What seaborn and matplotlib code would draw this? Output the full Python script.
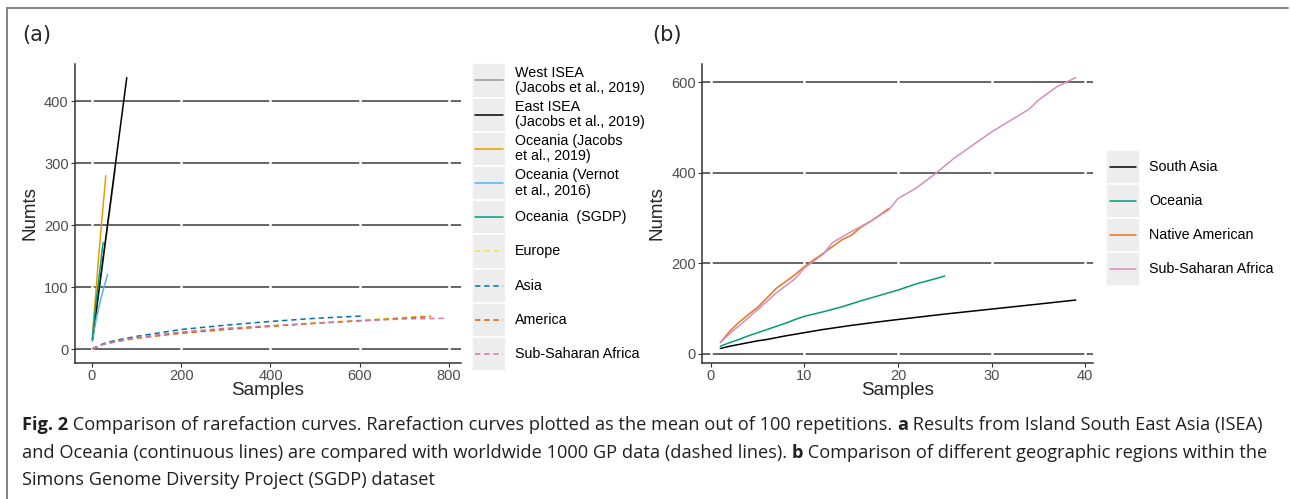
import numpy as np
import pandas as pd
import matplotlib
matplotlib.use("Agg")
import matplotlib.pyplot as plt
import seaborn as sns
from matplotlib.lines import Line2D
from matplotlib.patches import Rectangle

# ---- panel (a): ISEA / Oceania (solid) vs 1000 GP (dashed) ----
west_isea_x = [1, 52]
west_isea_y = [13, 290]
east_isea_x = [1, 40, 78]
east_isea_y = [15, 229, 438]
oce_jacobs_x = [1, 15, 31]
oce_jacobs_y = [22, 150, 280]
oce_vernot_x = [1, 10, 20, 35]
oce_vernot_y = [15, 50, 82, 121]
europe_x = [1, 25, 50, 100, 200, 300, 400, 500, 600, 760]
europe_y = [1, 8, 12, 18, 27, 33, 38, 43, 47, 54]
asia_x = [1, 25, 50, 100, 200, 300, 400, 500, 610]
asia_y = [1, 9, 14, 21, 32, 39, 45, 50, 54]
america_x = [1, 25, 50, 100, 200, 300, 400, 500, 600, 760]
america_y = [1, 8, 12, 18, 26, 32, 37, 42, 46, 53]
ssa_1kg_x = [1, 25, 50, 100, 200, 300, 400, 500, 600, 700, 790]
ssa_1kg_y = [1, 8, 12, 19, 28, 34, 38, 42, 46, 49, 50]

# ---- panel (b): SGDP regions ----
south_asia_x = [1, 2, 3, 4, 5, 6, 8, 10, 12, 15, 18, 20, 25, 30, 35, 39]
south_asia_y = [12, 17, 21, 25, 29, 32, 40, 47, 54, 63, 71, 76, 88, 99, 110, 119]
oceania_x = [1, 2, 3, 4, 5, 6, 7, 8, 9, 10, 12, 14, 16, 18, 20, 22, 24, 25]
oceania_y = [17, 25, 32, 40, 47, 54, 61, 68, 76, 83, 93, 104, 117, 129, 141, 155, 166, 172]
native_am_x = [1, 2, 3, 4, 5, 6, 7, 8, 9, 10, 11, 12, 13, 14, 15, 16, 17, 18, 19]
native_am_y = [25, 50, 70, 87, 103, 124, 145, 160, 175, 193, 208, 222, 237, 252, 262, 279, 292, 306, 321]
ssa_x = [1, 2, 3, 5, 7, 9, 10, 12, 13, 15, 17, 19, 20, 22, 24, 26, 28, 30, 32, 34, 35, 37, 39]
ssa_y = [25, 45, 62, 98, 135, 166, 190, 220, 246, 270, 292, 318, 343, 367, 398, 432, 461, 490, 515, 540, 560, 590, 610]

groups_a = ["West ISEA\n(Jacobs et al., 2019)", "East ISEA\n(Jacobs et al., 2019)",
            "Oceania (Jacobs\net al., 2019)", "Oceania (Vernot\net al., 2016)",
            "Oceania  (SGDP)", "Europe", "Asia", "America", "Sub-Saharan Africa"]
colors_a = ["#999999", "#000000", "#E69F00", "#56B4E9", "#009E73",
            "#F0E442", "#0072B2", "#D55E00", "#CC79A7"]
dashed_a = [False] * 5 + [True] * 4
series_a = [(west_isea_x, west_isea_y), (east_isea_x, east_isea_y),
            (oce_jacobs_x, oce_jacobs_y), (oce_vernot_x, oce_vernot_y),
            (oceania_x, oceania_y), (europe_x, europe_y), (asia_x, asia_y),
            (america_x, america_y), (ssa_1kg_x, ssa_1kg_y)]

groups_b = ["South Asia", "Oceania", "Native American", "Sub-Saharan Africa"]
colors_b = ["#000000", "#009E73", "#E8731E", "#D98DBE"]
series_b = [(south_asia_x, south_asia_y), (oceania_x, oceania_y),
            (native_am_x, native_am_y), (ssa_x, ssa_y)]

DASH = (3.5, 2.5)

def long_frame(groups, series):
    rows = []
    for g, (xs, ys) in zip(groups, series):
        for x, y in zip(xs, ys):
            rows.append({"group": g, "Samples": x, "Numts": y})
    return pd.DataFrame(rows)

df_a = long_frame(groups_a, series_a)
df_b = long_frame(groups_b, series_b)

sns.set_style("white")
plt.rcParams["font.family"] = ["Liberation Sans", "DejaVu Sans"]

W, H = 1290, 499
fig = plt.figure(figsize=(W / 100, H / 100), dpi=100)


def px(x, y):
    return x / W, 1 - y / H


def style_axes(ax, xticks, yticks, xlim, ylim):
    ax.set_xlim(xlim)
    ax.set_ylim(ylim)
    ax.set_xticks(xticks)
    ax.set_yticks(yticks)
    ax.set_axisbelow(True)
    ax.grid(axis="y", color="#3c3c3c", lw=1.1)
    ax.grid(axis="x", visible=False)
    for xt in xticks:
        ax.axvline(xt, color="white", lw=1.8, zorder=1)
    for s in ["top", "right"]:
        ax.spines[s].set_visible(False)
    for s in ["left", "bottom"]:
        ax.spines[s].set_color("#333333")
        ax.spines[s].set_linewidth(1.1)
    ax.tick_params(axis="both", labelcolor="#4D4D4D", labelsize=10.5, length=3,
                   width=0.8, color="#333333", pad=1.5, left=True, bottom=True)
    ax.set_xlabel("Samples", fontsize=13.5, labelpad=-1)
    ax.set_ylabel("Numts", fontsize=13.5, labelpad=4)


def draw_legend(x0, y0, row_h, key_w, labels, colors, dashed, text_x):
    for i, (lab, col, d) in enumerate(zip(labels, colors, dashed)):
        top = y0 + i * row_h
        fig.add_artist(Rectangle(px(x0, top + row_h), key_w / W, row_h / H,
                                 transform=fig.transFigure, facecolor="#EDEDED",
                                 edgecolor="white", lw=1.2))
        yc = top + row_h / 2
        ln = Line2D([(x0 + 3.5) / W, (x0 + key_w - 3.5) / W], [1 - yc / H] * 2,
                    transform=fig.transFigure, color=col, lw=1.1)
        if d:
            ln.set_dashes(DASH)
        fig.add_artist(ln)
        fig.text(*px(text_x, yc), lab, fontsize=10.3, va="center", ha="left",
                 linespacing=1.1, color="black")


# panel (a)
ax_a = fig.add_axes([75 / W, (499 - 363) / H, 386 / W, 299 / H])
sns.lineplot(data=df_a, x="Samples", y="Numts", hue="group", style="group",
             hue_order=groups_a, style_order=groups_a,
             palette=dict(zip(groups_a, colors_a)),
             dashes={g: (DASH if d else "") for g, d in zip(groups_a, dashed_a)},
             estimator=None, sort=False, linewidth=1.1, legend=False, ax=ax_a)
style_axes(ax_a, [0, 200, 400, 600, 800], [0, 100, 200, 300, 400], (-38, 827), (-22, 460))

# panel (b)
ax_b = fig.add_axes([702 / W, (499 - 363) / H, 391 / W, 299 / H])
sns.lineplot(data=df_b, x="Samples", y="Numts", hue="group",
             hue_order=groups_b, palette=dict(zip(groups_b, colors_b)),
             estimator=None, sort=False, linewidth=1.1, legend=False, ax=ax_b)
style_axes(ax_b, [0, 10, 20, 30, 40], [0, 200, 400, 600], (-0.96, 40.85), (-20, 640))

draw_legend(472, 63.3, 34.2, 34, groups_a, colors_a, dashed_a, 515)
draw_legend(1106, 150, 34, 33.5, groups_b, colors_b, [False] * 4, 1149)

fig.text(*px(22, 35), "(a)", fontsize=15, family="DejaVu Sans", va="center", ha="left")
fig.text(*px(652, 35), "(b)", fontsize=15, family="DejaVu Sans", va="center", ha="left")

# frame around the figure
frame_kw = dict(transform=fig.transFigure, color="#7a7a7a", lw=1.3)
fig.add_artist(Line2D([7 / W, 1288 / W], [1 - 8 / H] * 2, **frame_kw))
fig.add_artist(Line2D([7 / W] * 2, [1 - 8 / H, 0], **frame_kw))

# caption
caption = [
    [("Fig. 2", "bold"), (" Comparison of rarefaction curves. Rarefaction curves plotted as the mean out of 100 repetitions. ", "normal"),
     ("a", "bold"), (" Results from Island South East Asia (ISEA)", "normal")],
    [("and Oceania (continuous lines) are compared with worldwide 1000 GP data (dashed lines). ", "normal"),
     ("b", "bold"), (" Comparison of different geographic regions within the", "normal")],
    [("Simons Genome Diversity Project (SGDP) dataset", "normal")],
]
baselines = [430, 458, 485]
renderer = fig.canvas.get_renderer()


def draw_line(parts, y, fs, dry=False):
    x = 22
    arts = []
    for txt, wt in parts:
        t = fig.text(x / W, 1 - y / H, txt, fontsize=fs, fontweight=wt,
                     family=["Open Sans", "DejaVu Sans"], va="baseline", ha="left",
                     color="#231f20")
        bb = t.get_window_extent(renderer)
        x += bb.width
        arts.append(t)
    if dry:
        for t in arts:
            t.remove()
    return x - 22


w0 = draw_line(caption[0], baselines[0], 12, dry=True)
fs_cap = 12 * 1240 / w0
for parts, y in zip(caption, baselines):
    draw_line(parts, y, fs_cap)

fig.savefig("out.png", dpi=100)
